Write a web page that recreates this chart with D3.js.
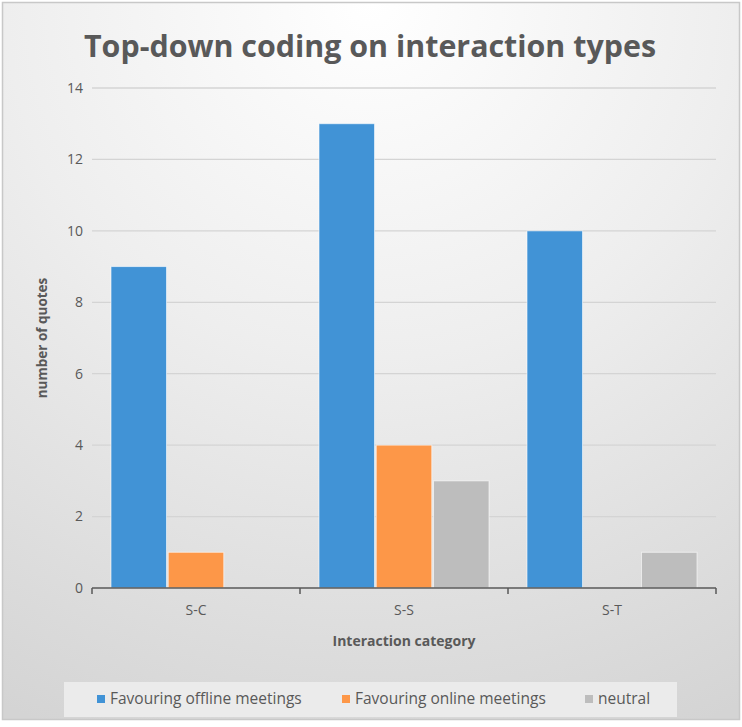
<!DOCTYPE html>
<html>
<head>
<meta charset="utf-8">
<script src="https://cdn.jsdelivr.net/npm/d3@7"></script>
<style>
  body { margin: 0; background: #fff; }
  text { font-family: "Open Sans", "Noto Sans", sans-serif; }
</style>
</head>
<body>
<script>
// chart data
var categories = ["S-C", "S-S", "S-T"];
var seriesNames = ["Favouring offline meetings", "Favouring online meetings", "neutral"];
var offline = [9, 13, 10];
var online = [1, 4, 0];
var neutral = [0, 3, 1];
var yTicks = [0, 2, 4, 6, 8, 10, 12, 14];
var colors = ["#4193d6", "#fd9748", "#bdbdbd"];

var width = 742, height = 727;
var plotLeft = 92, plotRight = 716, plotTop = 88, plotBottom = 588;

var svg = d3.select("body").append("svg")
  .attr("width", width)
  .attr("height", height);

var defs = svg.append("defs");
var grad = defs.append("radialGradient")
  .attr("id", "bg")
  .attr("cx", "50%").attr("cy", "0%")
  .attr("r", "110%");
grad.append("stop").attr("offset", "0%").attr("stop-color", "#ffffff");
grad.append("stop").attr("offset", "45%").attr("stop-color", "#eeeeee");
grad.append("stop").attr("offset", "100%").attr("stop-color", "#d4d4d4");

// background + border
svg.append("rect")
  .attr("x", 2.5).attr("y", 2.5)
  .attr("width", 737).attr("height", 717)
  .attr("fill", "url(#bg)")
  .attr("stroke", "#c8c8c8")
  .attr("stroke-width", 1.5);

var x0 = d3.scaleBand().domain(categories).range([plotLeft, plotRight]).paddingInner(0).paddingOuter(0);
var x1 = d3.scaleBand().domain(seriesNames).range([19, x0.bandwidth() - 19]).paddingInner(0.03);
var y = d3.scaleLinear().domain([0, 14]).range([plotBottom, plotTop]);

// grid lines
svg.append("g").selectAll("line").data(yTicks.slice(1)).enter().append("line")
  .attr("x1", plotLeft).attr("x2", plotRight)
  .attr("y1", function(d) { return y(d); })
  .attr("y2", function(d) { return y(d); })
  .attr("stroke", "#d4d4d4")
  .attr("stroke-width", 1.3);

// y tick labels
svg.append("g").selectAll("text").data(yTicks).enter().append("text")
  .attr("x", 83)
  .attr("y", function(d) { return y(d); })
  .attr("dy", "0.35em")
  .attr("text-anchor", "end")
  .attr("font-size", 14)
  .attr("fill", "#595959")
  .text(function(d) { return d; });

// bars
var table = categories.map(function(c, i) {
  return { cat: c, values: [offline[i], online[i], neutral[i]] };
});
var groups = svg.append("g").selectAll("g").data(table).enter().append("g")
  .attr("transform", function(d) { return "translate(" + x0(d.cat) + ",0)"; });
groups.selectAll("rect")
  .data(function(d) { return d.values.map(function(v, j) { return { name: seriesNames[j], v: v, j: j }; }); })
  .enter().append("rect")
  .filter(function(d) { return d.v > 0; })
  .attr("x", function(d) { return x1(d.name); })
  .attr("width", x1.bandwidth())
  .attr("y", function(d) { return y(d.v); })
  .attr("height", function(d) { return y(0) - y(d.v); })
  .attr("fill", function(d) { return colors[d.j]; })
  .attr("stroke", "#ffffff")
  .attr("stroke-opacity", 0.6)
  .attr("stroke-width", 1);

// x axis
var xAxis = d3.axisBottom(x0).tickSize(0).tickPadding(17);
var gx = svg.append("g").attr("transform", "translate(0," + plotBottom + ")").call(xAxis);
gx.select(".domain").remove();
gx.selectAll("text").attr("font-size", 14).attr("fill", "#595959")
  .style("font-family", "Open Sans, sans-serif");
svg.append("line")
  .attr("x1", plotLeft).attr("x2", plotRight)
  .attr("y1", plotBottom).attr("y2", plotBottom)
  .attr("stroke", "#595959").attr("stroke-width", 1.5);
var boundaries = categories.map(function(c) { return x0(c); }).concat([plotRight]);
svg.append("g").selectAll("line").data(boundaries).enter().append("line")
  .attr("x1", function(d) { return d; }).attr("x2", function(d) { return d; })
  .attr("y1", plotBottom).attr("y2", plotBottom + 6)
  .attr("stroke", "#595959").attr("stroke-width", 1.5);

// axis titles
svg.append("text")
  .attr("x", (plotLeft + plotRight) / 2).attr("y", 646)
  .attr("text-anchor", "middle")
  .attr("font-size", 14).attr("font-weight", "bold")
  .attr("fill", "#595959")
  .text("Interaction category");

svg.append("text")
  .attr("transform", "translate(47," + ((plotTop + plotBottom) / 2) + ") rotate(-90)")
  .attr("text-anchor", "middle")
  .attr("font-size", 13.5).attr("font-weight", "bold")
  .attr("fill", "#595959")
  .text("number of quotes");

// title
svg.append("text")
  .attr("x", 370).attr("y", 57)
  .attr("text-anchor", "middle")
  .attr("font-size", 31).attr("font-weight", "bold")
  .attr("fill", "#595959")
  .attr("textLength", 572)
  .attr("lengthAdjust", "spacingAndGlyphs")
  .text("Top-down coding on interaction types");

// legend
svg.append("rect")
  .attr("x", 64).attr("y", 682)
  .attr("width", 613).attr("height", 35)
  .attr("fill", "#ebebeb");
var legendX = [97, 342, 585];
var leg = svg.append("g").selectAll("g").data(seriesNames).enter().append("g")
  .attr("transform", function(d, i) { return "translate(" + legendX[i] + ",699)"; });
leg.append("rect")
  .attr("x", 0).attr("y", -4)
  .attr("width", 8).attr("height", 8)
  .attr("fill", function(d, i) { return colors[i]; });
leg.append("text")
  .attr("x", 13).attr("dy", "0.35em")
  .attr("font-size", 15.5)
  .attr("fill", "#595959")
  .text(function(d) { return d; });
</script>
</body>
</html>
